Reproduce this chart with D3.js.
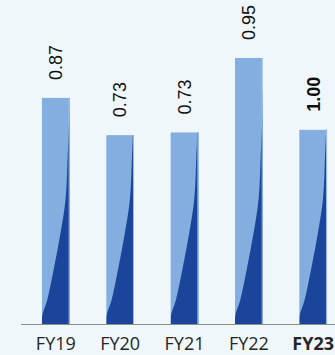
<!DOCTYPE html>
<html>
<head>
<meta charset="utf-8">
<script src="https://cdn.jsdelivr.net/npm/d3@7"></script>
<style>
  html, body { margin: 0; padding: 0; background: #f0f7fb; }
  svg { display: block; }
</style>
</head>
<body>
<script>
// ---- data ----
const categories = ["FY19", "FY20", "FY21", "FY22", "FY23"];
const valueLabels = ["0.87", "0.73", "0.73", "0.95", "1.00"];
// bar heights as drawn in the picture (relative to tallest bar)
const barLevels = [0.85, 0.71, 0.72, 1.00, 0.73];
const highlight = ["FY23"];

// ---- layout ----
const W = 335, H = 355;
const baseY = 324;
const svg = d3.select("body").append("svg").attr("width", W).attr("height", H);

const x = d3.scaleBand().domain(categories).range([21, 348])
  .paddingInner(0.57).paddingOuter(0.326);
const y = d3.scaleLinear().domain([0, 1]).range([baseY, 58]);

// decorative swoosh profile (style): [pixels above baseline, fraction of bar width]
const swoosh = [[0,0],[5,0.0],[24,0.19],[57,0.44],[91,0.67],[124,0.85],[169,0.93],[200,0.975],[232,1.0]];

const defs = svg.append("defs");
const bars = svg.append("g");

categories.forEach((c, i) => {
  const x0 = x(c), bw = x.bandwidth();
  const top = y(barLevels[i]);
  const id = "clip" + i;
  defs.append("clipPath").attr("id", id)
    .append("rect").attr("x", x0).attr("y", top).attr("width", bw).attr("height", baseY - top);

  const g = bars.append("g");
  g.append("rect").attr("x", x0).attr("y", top).attr("width", bw).attr("height", baseY - top)
    .attr("fill", "#84ade0");

  const line = d3.line().x(d => x0 + d[1] * bw).y(d => baseY - d[0]).curve(d3.curveMonotoneY);
  const path = line(swoosh) + `L${x0 + bw + 1},${baseY - 232}L${x0 + bw + 1},${baseY}Z`;
  g.append("path").attr("d", path).attr("fill", "#1b459b").attr("clip-path", `url(#${id})`);

  g.append("rect").attr("x", x0 + bw - 1).attr("y", top).attr("width", 1).attr("height", baseY - top)
    .attr("fill", "#b6d0ef").attr("opacity", 0.85);

  // value label
  svg.append("text")
    .attr("transform", `translate(${x0 + bw / 2},${top - 18}) rotate(-90)`)
    .attr("dy", "0.35em")
    .attr("text-anchor", "start")
    .attr("font-family", "'Liberation Sans', Arial, sans-serif")
    .attr("font-size", 18)
    .attr("font-weight", highlight.includes(c) ? "bold" : "normal")
    .attr("fill", "#111")
    .text(valueLabels[i]);
});

// x axis
const axis = svg.append("g").attr("transform", `translate(0,${baseY})`)
  .call(d3.axisBottom(x).tickSize(0).tickPadding(0));
axis.select(".domain").attr("stroke", "#8c8c8c").attr("d", `M21,0.5H${W}`);
axis.selectAll(".tick text")
  .attr("y", 26)
  .attr("dy", 0)
  .attr("font-family", "'Open Sans', sans-serif")
  .attr("font-size", 18)
  .attr("fill", "#262626")
  .attr("font-weight", d => highlight.includes(d) ? "bold" : "normal");
</script>
</body>
</html>
